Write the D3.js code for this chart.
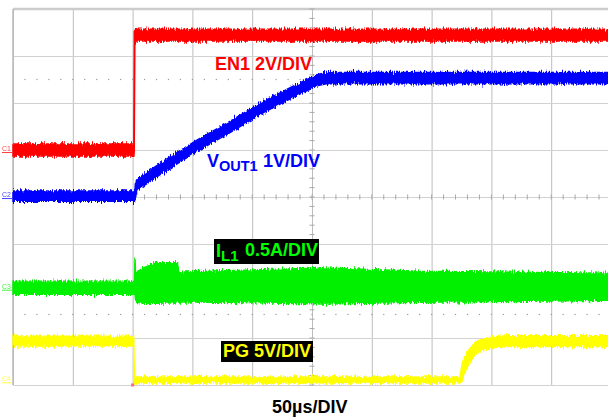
<!DOCTYPE html>
<html>
<head>
<meta charset="utf-8">
<script src="https://cdn.jsdelivr.net/npm/d3@7"></script>
<style>
html, body { margin: 0; padding: 0; background: #fff; }
svg { display: block; font-family: Arial, "Liberation Sans", sans-serif; font-weight: bold; }
</style>
</head>
<body>
<svg id="scope" width="608" height="419"></svg>
<script>
// time in µs (50 µs/div), levels in screen divisions (0 = bottom graticule line)
const timeDivs = d3.range(0, 501, 50);
const levelDivs = d3.range(0, 9);
const dottedLevels = [6.5, 1.5];

// EN1 (C1) envelope
const enTime = [0, 101.0, 101.4, 101.9, 103, 500];
const enLow  = [4.87, 4.87, 5.0, 7.25, 7.32, 7.32];
const enHigh = [5.13, 5.13, 7.5, 7.57, 7.57, 7.57];

// VOUT1 (C2) envelope
const voutTime = [0, 101.6, 102.3, 103.7, 125.4, 153.8, 181.4, 209, 237.5, 255, 262, 500];
const voutLow  = [3.91, 3.91, 3.98, 4.14, 4.52, 4.97, 5.37, 5.79, 6.16, 6.37, 6.41, 6.41];
const voutHigh = [4.13, 4.13, 4.26, 4.38, 4.76, 5.21, 5.61, 6.03, 6.40, 6.61, 6.65, 6.65];

// IL1 (C3) envelope
const ilTime = [0, 101.6, 102.0, 102.4, 103, 110, 120, 137.5, 138.5, 200, 262, 340, 500];
const ilLow  = [1.93, 1.93, 1.93, 1.80, 1.76, 1.74, 1.74, 1.75, 1.77, 1.75, 1.72, 1.76, 1.80];
const ilHigh = [2.21, 2.21, 2.72, 2.45, 2.40, 2.50, 2.60, 2.60, 2.40, 2.45, 2.49, 2.42, 2.38];

// PG (C4) envelope
const pgTime = [0, 101.0, 101.3, 101.6, 373.5, 375.5, 378, 382, 388, 399, 415, 500];
const pgLow  = [0.83, 0.83, 0.04, 0.04, 0.04, 0.10, 0.28, 0.49, 0.70, 0.79, 0.82, 0.82];
const pgHigh = [1.04, 1.04, 0.45, 0.17, 0.17, 0.45, 0.60, 0.79, 0.94, 1.02, 1.05, 1.05];

const channels = [
    { name: 'C1', color: '#ff0000', ref: 5.0, time: enTime, low: enLow, high: enHigh },
    { name: 'C2', color: '#0000ff', ref: 4.02, time: voutTime, low: voutLow, high: voutHigh },
    { name: 'C3', color: '#00f000', ref: 2.07, time: ilTime, low: ilLow, high: ilHigh },
    { name: 'C4', color: '#ffff00', ref: 0.1, time: pgTime, low: pgLow, high: pgHigh }
];

const svg = d3.select('#scope');
const x = d3.scaleLinear().domain([0, 500]).range([13, 611]);
const y = d3.scaleLinear().domain([0, 8]).range([385, 9]);

// noise look for the traces: vertical jitter only
const filter = svg.append('defs').append('filter')
    .attr('id', 'noise')
    .attr('filterUnits', 'userSpaceOnUse')
    .attr('x', 0).attr('y', 0).attr('width', 608).attr('height', 419)
    .attr('color-interpolation-filters', 'sRGB');
filter.append('feTurbulence')
    .attr('type', 'fractalNoise')
    .attr('baseFrequency', '0.9 0.15')
    .attr('numOctaves', 2)
    .attr('seed', 4)
    .attr('result', 'turb');
filter.append('feColorMatrix')
    .attr('in', 'turb')
    .attr('type', 'matrix')
    .attr('values', '0 0 0 0 0.5  0 1 0 0 0  0 0 0 0 0  0 0 0 0 1')
    .attr('result', 'map');
filter.append('feDisplacementMap')
    .attr('in', 'SourceGraphic')
    .attr('in2', 'map')
    .attr('scale', 7)
    .attr('xChannelSelector', 'R')
    .attr('yChannelSelector', 'G');

// graticule
const grid = svg.append('g').attr('class', 'grid');
grid.append('g')
    .attr('transform', `translate(0,${y(8)})`)
    .call(d3.axisTop(x).tickValues(timeDivs).tickSize(-(y(0) - y(8))).tickFormat(''))
    .call(g => g.select('.domain').remove())
    .call(g => g.selectAll('line').attr('stroke', '#bdbdbd'));
grid.append('g')
    .attr('transform', `translate(${x(0)},0)`)
    .call(d3.axisLeft(y).tickValues(levelDivs).tickSize(-(x(500) - x(0))).tickFormat(''))
    .call(g => g.select('.domain').remove())
    .call(g => g.selectAll('line').attr('stroke', '#d2d2d2'));
grid.append('line')
    .attr('x1', x(0)).attr('x2', x(500)).attr('y1', y(8)).attr('y2', y(8))
    .attr('stroke', '#cccccc').attr('stroke-width', 2.5);
grid.append('line')
    .attr('x1', x(0)).attr('x2', x(0)).attr('y1', y(8)).attr('y2', y(0))
    .attr('stroke', '#bbbbbb').attr('stroke-width', 1.5);

// minor ticks on the centre lines
const minorT = d3.range(0, 501, 10);
const minorV = d3.range(0, 8.01, 0.2);
grid.append('g').selectAll('line').data(minorT).join('line')
    .attr('x1', d => x(d)).attr('x2', d => x(d))
    .attr('y1', y(4) - 2.5).attr('y2', y(4) + 2.5)
    .attr('stroke', '#a8a8a8');
grid.append('g').selectAll('line').data(minorV).join('line')
    .attr('x1', x(250) - 2.5).attr('x2', x(250) + 2.5)
    .attr('y1', d => y(d)).attr('y2', d => y(d))
    .attr('stroke', '#a8a8a8');

// dotted cursor rows
dottedLevels.forEach(lv => {
    grid.append('g').selectAll('rect').data(minorT.slice(1)).join('rect')
        .attr('x', d => x(d) - 0.6).attr('y', y(lv) - 0.6)
        .attr('width', 1.2).attr('height', 1.2)
        .attr('fill', '#9a9a9a');
});

// traces
const traces = svg.append('g').attr('filter', 'url(#noise)');
channels.forEach(ch => {
    const pts = ch.time.map((t, i) => ({ t, lo: ch.low[i], hi: ch.high[i] }));
    const area = d3.area()
        .x(d => x(d.t))
        .y0(d => y(d.lo))
        .y1(d => y(d.hi));
    traces.append('path')
        .datum(pts)
        .attr('d', area)
        .attr('fill', ch.color)
        .attr('stroke', ch.color)
        .attr('stroke-width', 1.4);
});

// channel ground markers
channels.forEach(ch => {
    const g = svg.append('g').attr('transform', `translate(2,${y(ch.ref) + 1})`);
    g.append('text')
        .attr('font-size', 7).attr('font-weight', 'normal')
        .attr('fill', ch.color).attr('opacity', 0.75)
        .text(ch.name);
    g.append('line')
        .attr('x1', 0).attr('x2', 10).attr('y1', 1.5).attr('y2', 1.5)
        .attr('stroke', ch.color).attr('opacity', 0.75);
});

// trigger marker
svg.append('rect')
    .attr('x', x(100) - 1.5).attr('y', y(0) - 1.5)
    .attr('width', 3).attr('height', 3)
    .attr('fill', '#ff6688');

// labels
svg.append('text')
    .attr('x', 215).attr('y', 70)
    .attr('font-size', 18).attr('fill', '#ff0000')
    .text('EN1 2V/DIV');

const vout = svg.append('text')
    .attr('x', 207).attr('y', 167)
    .attr('font-size', 18).attr('fill', '#0000ff');
vout.append('tspan').text('V');
vout.append('tspan').attr('font-size', 14.5).attr('dy', 4).text('OUT1');
vout.append('tspan').attr('x', 263).attr('dy', -4).text('1V/DIV');

svg.append('rect')
    .attr('x', 214).attr('y', 239).attr('width', 105).attr('height', 25)
    .attr('fill', '#000');
const il = svg.append('text')
    .attr('x', 216).attr('y', 257)
    .attr('font-size', 18).attr('fill', '#00ff00');
il.append('tspan').text('I');
il.append('tspan').attr('font-size', 15).attr('dy', 4).text('L1');
il.append('tspan').attr('x', 245).attr('dy', -5).text('0.5A/DIV');

svg.append('rect')
    .attr('x', 221).attr('y', 341).attr('width', 92).attr('height', 21)
    .attr('fill', '#000');
svg.append('text')
    .attr('x', 223).attr('y', 357)
    .attr('font-size', 18).attr('fill', '#ffff00')
    .text('PG 5V/DIV');

svg.append('text')
    .attr('x', 272).attr('y', 413)
    .attr('font-size', 18).attr('fill', '#000')
    .text('50µs/DIV');
</script>
</body>
</html>
